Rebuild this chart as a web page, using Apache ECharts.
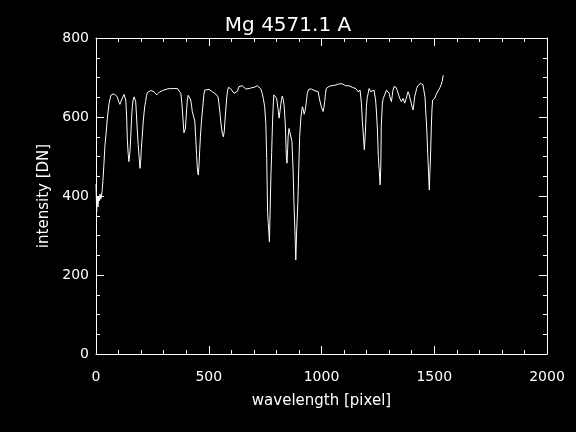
<!DOCTYPE html>
<html>
<head>
<meta charset="utf-8">
<script src="https://cdn.jsdelivr.net/npm/echarts@6/dist/echarts.min.js"></script>
<style>html,body{margin:0;padding:0;background:#000;}#c{width:576px;height:432px;}</style>
</head>
<body>
<div id="c"></div>
<script>
var titleText = "Mg 4571.1 A";
var xName = "wavelength [pixel]";
var yName = "intensity [DN]";
var xTicks = [0, 500, 1000, 1500, 2000];
var yTicks = [0, 200, 400, 600, 800];

var pixel = [0,3,5,7,9,12,15,18,21,24,27,31,35,40,45,50,55,58,62,66,71,80,87,94,100,106,111,117,124,128,132,136,139,143,146,149,151,154,158,161,165,169,172,176,180,183,187,191,195,198,201,205,209,213,217,220,224,228,235,243,250,257,263,269,275,281,287,295,302,316,331,345,361,368,376,380,383,387,390,393,396,399,402,405,409,412,416,420,424,427,431,435,438,442,446,449,451,454,457,460,463,467,471,475,478,482,490,501,508,516,524,531,536,541,545,550,555,560,565,569,572,576,580,584,587,597,605,612,616,620,627,634,641,649,656,664,672,679,690,701,708,715,722,730,736,742,748,753,757,759,761,764,766,769,772,774,776,779,781,783,785,787,789,795,801,804,807,812,816,819,823,826,830,834,837,840,844,847,850,852,856,860,863,869,874,878,883,886,890,895,899,903,909,915,919,923,927,930,934,937,943,949,955,959,967,974,985,992,999,1003,1007,1011,1014,1018,1021,1030,1041,1052,1063,1070,1078,1092,1100,1107,1122,1137,1145,1152,1158,1162,1166,1171,1177,1181,1186,1190,1195,1199,1203,1207,1211,1218,1225,1233,1240,1244,1248,1252,1256,1260,1263,1265,1270,1274,1280,1288,1295,1300,1303,1310,1314,1317,1322,1326,1331,1336,1342,1347,1354,1362,1366,1369,1373,1376,1380,1384,1388,1391,1398,1402,1406,1410,1413,1418,1422,1427,1432,1438,1444,1450,1455,1459,1462,1467,1471,1476,1478,1480,1483,1487,1490,1493,1498,1502,1506,1511,1515,1519,1525,1530,1535,1537,1540];

var intensity = [430,360,400,380,372,398,388,405,392,400,412,440,480,530,560,595,620,635,645,655,658,659,657,651,640,632,640,648,657,652,643,600,542,505,487,483,515,550,600,626,645,651,648,639,600,567,530,500,470,485,520,550,585,610,630,639,655,662,666,667,665,664,659,656,660,663,664,667,667,671,672,672,672,666,660,640,618,585,560,555,570,592,620,643,655,658,650,643,628,614,611,609,590,550,505,474,460,453,480,517,550,584,610,635,655,668,670,670,668,664,661,658,655,651,635,609,580,559,550,565,592,620,651,668,675,672,668,660,662,656,665,677,678,679,675,671,671,672,674,675,677,679,677,672,662,647,626,584,495,430,360,330,314,284,357,410,457,510,550,590,618,640,656,660,647,635,622,597,615,630,645,653,645,630,605,575,500,483,520,550,571,570,567,538,466,381,297,238,314,381,466,550,601,626,620,607,615,626,645,660,670,675,671,668,667,667,664,643,626,620,614,625,639,660,672,676,679,680,681,682,684,684,682,679,679,675,673,672,668,664,667,668,635,592,550,517,567,626,650,660,672,664,666,668,643,610,567,500,466,428,474,575,635,647,656,668,672,660,651,639,655,668,677,681,675,667,656,647,639,647,642,635,640,647,656,664,658,651,635,625,618,635,651,662,672,679,683,685,685,682,677,650,618,567,508,441,415,450,491,575,620,643,645,647,652,660,664,668,674,681,690,694,706];

var seriesData = pixel.map(function (p, i) { return [p, intensity[i]]; });

var font = "DejaVu Sans";
var white = "#ffffff";
var plain = function (v) { return String(v); };
var tickCommon = { show: true, inside: true, length: 8, lineStyle: { color: white, width: 1 } };
var minorX = { show: true, splitNumber: 5, length: 4, lineStyle: { color: white, width: 1 } };
var minorY = { show: true, splitNumber: 4, length: 4, lineStyle: { color: white, width: 1 } };
var lineCommon = { show: true, onZero: false, lineStyle: { color: white, width: 1 } };

var chart = echarts.init(document.getElementById('c'), null, { renderer: 'canvas' });
chart.setOption({
  backgroundColor: '#000000',
  animation: false,
  title: {
    text: titleText,
    left: 'center',
    top: 11,
    textStyle: { color: white, fontFamily: font, fontSize: 20, fontWeight: 'normal' }
  },
  grid: { left: 96, right: 29, top: 38, bottom: 78, containLabel: false },
  xAxis: [{
    type: 'value', position: 'bottom', min: xTicks[0], max: xTicks[xTicks.length - 1], interval: 500,
    name: xName, nameLocation: 'middle', nameGap: 40,
    nameTextStyle: { color: white, fontFamily: font, fontSize: 15 },
    axisLine: lineCommon, axisTick: tickCommon, minorTick: minorX,
    splitLine: { show: false }, minorSplitLine: { show: false },
    axisLabel: { color: white, fontFamily: font, fontSize: 14, margin: 16, formatter: plain }
  }, {
    type: 'value', position: 'top', min: xTicks[0], max: xTicks[xTicks.length - 1], interval: 500,
    axisLine: lineCommon, axisTick: tickCommon, minorTick: minorX,
    splitLine: { show: false }, axisLabel: { show: false }
  }],
  yAxis: [{
    type: 'value', position: 'left', min: yTicks[0], max: yTicks[yTicks.length - 1], interval: 200,
    name: yName, nameLocation: 'middle', nameGap: 42,
    nameTextStyle: { color: white, fontFamily: font, fontSize: 15 },
    axisLine: lineCommon, axisTick: tickCommon, minorTick: minorY,
    splitLine: { show: false }, minorSplitLine: { show: false },
    axisLabel: { color: white, fontFamily: font, fontSize: 14, margin: 7, formatter: plain }
  }, {
    type: 'value', position: 'right', min: yTicks[0], max: yTicks[yTicks.length - 1], interval: 200,
    axisLine: lineCommon, axisTick: tickCommon, minorTick: minorY,
    splitLine: { show: false }, axisLabel: { show: false }
  }],
  series: [{
    type: 'line', xAxisIndex: 0, yAxisIndex: 0,
    data: seriesData, showSymbol: false, symbol: 'none',
    lineStyle: { color: white, width: 1 }
  }]
});
</script>
</body>
</html>
